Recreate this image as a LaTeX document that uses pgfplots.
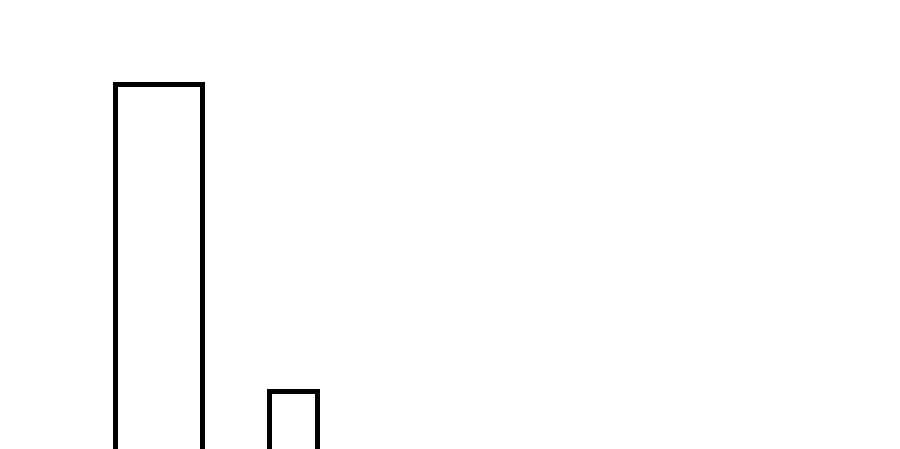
\documentclass[border=0pt]{standalone}
\usepackage{pgfplots}
\pgfplotsset{compat=1.18}
\begin{document}
\begin{tikzpicture}
\begin{axis}[
    scale only axis,
    width=900pt, height=448pt,
    xmin=0, xmax=900,
    ymin=0, ymax=448,
    axis line style={draw=none},
    ticks=none,
    clip=true,
]
% bars drawn as outlines, running past the bottom edge
\addplot[draw=black, line width=5pt, line join=miter, mark=none] coordinates {(115,-20) (115,363) (202,363) (202,-20)};
\addplot[draw=black, line width=5pt, line join=miter, mark=none] coordinates {(269,-20) (269,57) (317,57) (317,-20)};
\end{axis}
\end{tikzpicture}
\end{document}
